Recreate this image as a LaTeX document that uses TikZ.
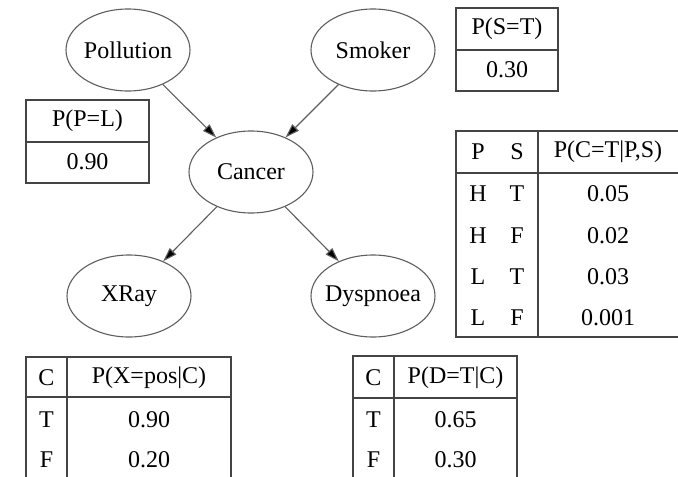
\documentclass[tikz,border=0pt]{standalone}
\usepackage{fontspec}
\setmainfont{Liberation Serif}
\usepackage{tikz}
\usepackage{xcolor}
\usetikzlibrary{shapes.geometric, arrows.meta, positioning}
\definecolor{Node_Gray}{HTML}{5E5E5E}
\definecolor{Table_Gray}{HTML}{444444}

\tikzset{
  var/.style={ellipse, draw=Node_Gray, line width=1.1pt, minimum width=124pt, minimum height=82pt, inner xsep=-6pt, inner ysep=0pt},
  edge/.style={draw=Node_Gray, line width=1.1pt, -{Triangle[length=14pt,width=9pt,fill=black]}},
  rule/.style={draw=Table_Gray, line width=1.2pt},
  cell/.style={inner sep=0pt, anchor=center}
}

\begin{document}
\begin{tikzpicture}[x=1pt, y=-1pt, font=\fontsize{24}{28}\selectfont]
    \useasboundingbox (0,0) rectangle (678,477);
    % Variables
    \node[var] (pol) at (128,50) {Pollution};
    \node[var] (smo) at (373,50) {Smoker};
    \node[var] (can) at (251,172) {Cancer};
    \node[var] (xra) at (129,296) {XRay};
    \node[var] (dys) at (373,296) {Dyspnoea};
    % Arcs
    \draw[edge] (pol) -- (can);
    \draw[edge] (smo) -- (can);
    \draw[edge] (can) -- (xra);
    \draw[edge] (can) -- (dys);
    % P(P=L)
    \draw[rule] (26,100) rectangle (149,183);
    \draw[rule] (26,142) -- (149,142);
    \node[cell] (pl-h) at (87.5,121) {P(P=L)};
    \node[cell] (pl-v) at (87.5,162) {0.90};
    % P(S=T)
    \draw[rule] (456,8) rectangle (558,91);
    \draw[rule] (456,50) -- (558,50);
    \node[cell] (st-h) at (507,29) {P(S=T)};
    \node[cell] (st-v) at (507,70) {0.30};
    % P(C=T|P,S)
    \draw[rule] (679,131) -- (456,131) -- (456,337) -- (679,337);
    \draw[rule] (456,173) -- (679,173);
    \draw[rule] (538,131) -- (538,337);
    \node[cell] (ct-p) at (478,152) {P};
    \node[cell] (ct-s) at (517,152) {S};
    \node[cell] (ct-h) at (608,152) {P(C=T|P,S)};
    \node[cell] (ct-p1) at (478,194) {H}; \node[cell] (ct-s1) at (517,194) {T}; \node[cell] (ct-v1) at (608,194) {0.05};
    \node[cell] (ct-p2) at (478,236) {H}; \node[cell] (ct-s2) at (517,236) {F}; \node[cell] (ct-v2) at (608,236) {0.02};
    \node[cell] (ct-p3) at (478,277) {L}; \node[cell] (ct-s3) at (517,277) {T}; \node[cell] (ct-v3) at (608,277) {0.03};
    \node[cell] (ct-p4) at (478,318) {L}; \node[cell] (ct-s4) at (517,318) {F}; \node[cell] (ct-v4) at (608,318) {0.001};
    % P(X=pos|C)
    \draw[rule] (26,478) -- (26,357) -- (231,357) -- (231,478);
    \draw[rule] (26,397) -- (231,397);
    \draw[rule] (67,357) -- (67,478);
    \node[cell] (xp-c) at (46.5,378) {C};
    \node[cell] (xp-h) at (149,378) {P(X=pos|C)};
    \node[cell] (xp-c1) at (46.5,420) {T}; \node[cell] (xp-v1) at (149,420) {0.90};
    \node[cell] (xp-c2) at (46.5,460) {F}; \node[cell] (xp-v2) at (149,460) {0.20};
    % P(D=T|C)
    \draw[rule] (353,478) -- (353,356) -- (517,356) -- (517,478);
    \draw[rule] (353,398) -- (517,398);
    \draw[rule] (394,356) -- (394,478);
    \node[cell] (dt-c) at (373.5,378) {C};
    \node[cell] (dt-h) at (455.5,378) {P(D=T|C)};
    \node[cell] (dt-c1) at (373.5,420) {T}; \node[cell] (dt-v1) at (455.5,420) {0.65};
    \node[cell] (dt-c2) at (373.5,460) {F}; \node[cell] (dt-v2) at (455.5,460) {0.30};
\end{tikzpicture}
\end{document}
